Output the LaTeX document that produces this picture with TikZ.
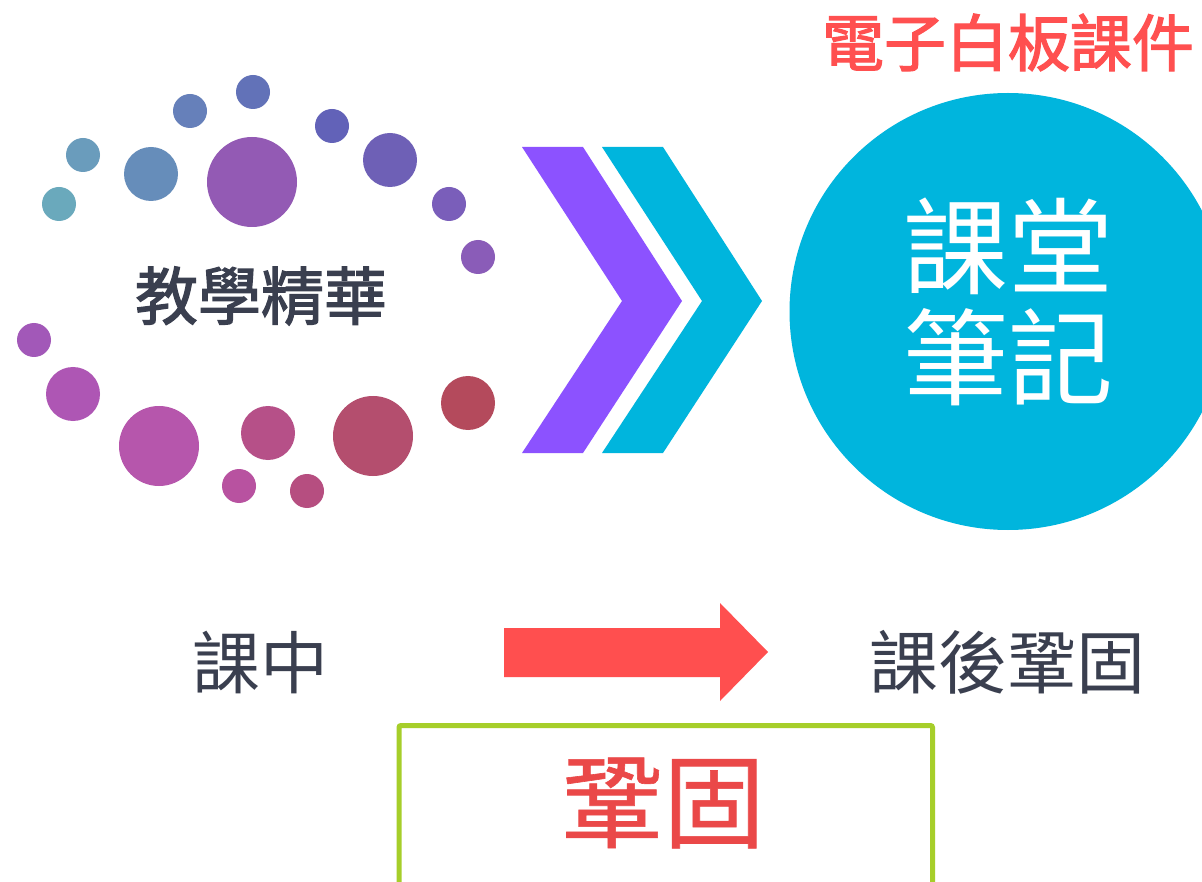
\documentclass[tikz,border=0pt]{standalone}
\usepackage{fontspec}
\newfontfamily\cjk{Noto Sans CJK TC}
\newfontfamily\cjkmed[FakeBold=2]{Noto Sans CJK TC}
\newfontfamily\cjkemb[FakeBold=0.6]{Noto Sans CJK TC}
\definecolor{txtgray}{HTML}{3A3F4F}
\definecolor{redtxt}{HTML}{FF5050}
\definecolor{cyanc}{HTML}{00B5DD}
\definecolor{purpc}{HTML}{8C52FF}
\definecolor{arrowred}{HTML}{FF4F4F}
\definecolor{boxgreen}{HTML}{A6CE2A}
\definecolor{embred}{HTML}{EA4848}
\tikzset{
  lbl/.style={inner sep=0pt, font=\cjk},
}
\begin{document}
\begin{tikzpicture}[x=1pt,y=-1pt]
\clip (0,0) rectangle (1202,882);
\fill[white] (0,0) rectangle (1202,882);
% dots
\fill[color={rgb,255:red,98;green,114;blue,184}] (253,92) circle[radius=17pt];
\fill[color={rgb,255:red,102;green,128;blue,186}] (190,111) circle[radius=17pt];
\fill[color={rgb,255:red,98;green,98;blue,184}] (332,126) circle[radius=17pt];
\fill[color={rgb,255:red,106;green,156;blue,188}] (83,155) circle[radius=17pt];
\fill[color={rgb,255:red,102;green,141;blue,186}] (151,174) circle[radius=27pt];
\fill[color={rgb,255:red,147;green,90;blue,180}] (252,182) circle[radius=45pt];
\fill[color={rgb,255:red,110;green,96;blue,182}] (390,160) circle[radius=27pt];
\fill[color={rgb,255:red,106;green,169;blue,188}] (59,204) circle[radius=17pt];
\fill[color={rgb,255:red,122;green,94;blue,186}] (449,204) circle[radius=17pt];
\fill[color={rgb,255:red,138;green,92;blue,184}] (478,257) circle[radius=17pt];
\fill[color={rgb,255:red,162;green,88;blue,184}] (34,340) circle[radius=17pt];
\fill[color={rgb,255:red,174;green,86;blue,180}] (73,394) circle[radius=27pt];
\fill[color={rgb,255:red,182;green,86;blue,172}] (159,446) circle[radius=40pt];
\fill[color={rgb,255:red,182;green,80;blue,136}] (268,433) circle[radius=27pt];
\fill[color={rgb,255:red,180;green,78;blue,110}] (373,436) circle[radius=40pt];
\fill[color={rgb,255:red,180;green,74;blue,92}] (468,403) circle[radius=27pt];
\fill[color={rgb,255:red,184;green,82;blue,160}] (239,486) circle[radius=17pt];
\fill[color={rgb,255:red,182;green,78;blue,128}] (307,491) circle[radius=17pt];
\node[lbl, text=txtgray, font=\cjkmed\fontsize{63}{63}\selectfont] (core) at (261,296) {教學精華};
% chevrons
\fill[purpc] (522,147) -- (583,147) -- (682,301) -- (583,453) -- (522,453) -- (622,301) -- cycle;
\fill[cyanc] (602,147) -- (663,147) -- (762,301) -- (663,453) -- (602,453) -- (702,301) -- cycle;
% big circle
\fill[cyanc] (1008,311.5) circle[radius=218.5pt];
\node[lbl, text=white, align=center, font=\cjk\fontsize{105}{111}\selectfont] (notes) at (1008,302) {課堂\\筆記};
\node[lbl, text=redtxt, font=\cjkmed\fontsize{62}{62}\selectfont] (title) at (1008,42.5) {電子白板課件};
% bottom row
\node[lbl, text=txtgray, font=\cjk\fontsize{68}{68}\selectfont] (during) at (260,662) {課中};
\node[lbl, text=txtgray, font=\cjk\fontsize{69}{69}\selectfont] (after) at (1007,662) {課後鞏固};
\fill[arrowred] (504,628) -- (720,628) -- (720,603) -- (768,652) -- (720,701) -- (720,677) -- (504,677) -- cycle;
% green box
\draw[boxgreen, line width=5pt, rounded corners=2pt] (399,725.5) rectangle (932.5,905);
\node[lbl, text=embred, font=\cjkemb\fontsize{102}{102}\selectfont] (consol) at (663,803) {鞏固};
\end{tikzpicture}
\end{document}
